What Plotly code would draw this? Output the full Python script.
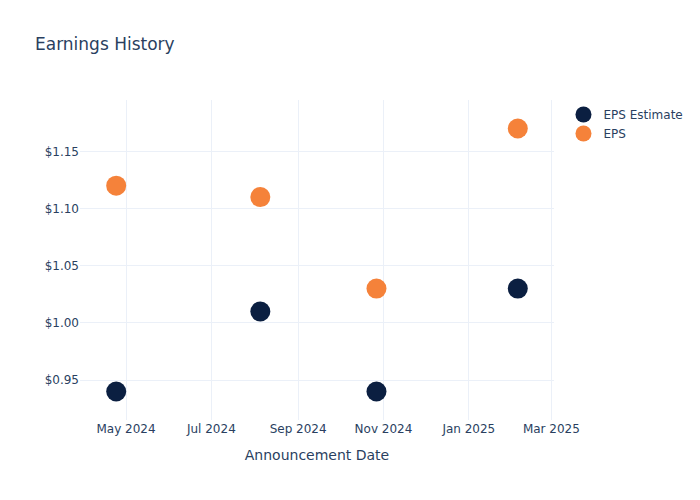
import plotly.graph_objs as go

# Announcement dates and EPS values
dates = ['2024-04-24', '2024-08-05', '2024-10-27', '2025-02-05']
eps_estimate = [0.94, 1.01, 0.94, 1.03]
eps_actual = [1.12, 1.11, 1.03, 1.17]

traces = [
    go.Scatter(
        x=dates,
        y=eps_estimate,
        mode='markers',
        marker=dict(size=20, color='#0B1F41'),
        name='EPS Estimate'
    ),
    go.Scatter(
        x=dates,
        y=eps_actual,
        mode='markers',
        marker=dict(size=20, color='#F5823A'),
        name='EPS'
    ),
]

layout = go.Layout(
    title='Earnings History',
    xaxis=dict(title='Announcement Date'),
    yaxis=dict(tickprefix='$', tickformat='.2f'),
    template='plotly_white',
    font=dict(family='DejaVu Sans'),
    width=700,
    height=500
)

fig = go.Figure(data=traces, layout=layout)

# drop the page margin so the figure sits at the window corner
fig.write_html('out.html', config={'displayModeBar': False},
               post_script="document.body.style.margin='0';")
